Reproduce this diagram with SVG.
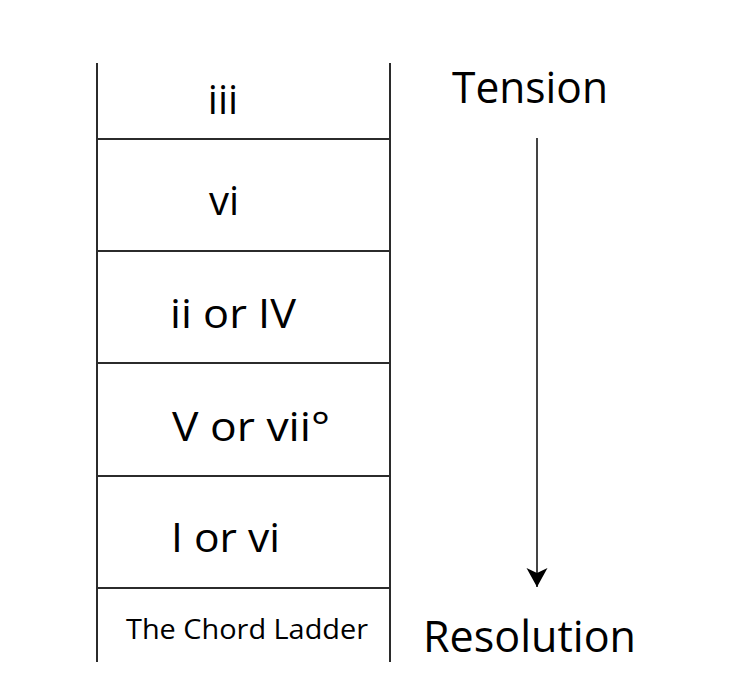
<svg xmlns="http://www.w3.org/2000/svg" width="734" height="688" viewBox="0 0 734 688">
<defs>
<style>
.ln{stroke:#2b2b2b;stroke-width:2;fill:none}
.t{font-family:"Open Sans","Noto Sans","Liberation Sans",sans-serif;fill:#000;font-weight:500}
.big{font-size:40px}
.lbl{font-size:44px}
.cap{font-size:27px}
</style>
<marker id="ah" markerWidth="22" markerHeight="22" refX="19" refY="11" orient="auto" markerUnits="userSpaceOnUse">
<path d="M0,0.5 L19,11 L0,21.5 L5,11 Z" fill="#000"/>
</marker>
</defs>
<rect width="734" height="688" fill="#fff"/>
<g id="ladder">
<line class="ln" x1="97" y1="63" x2="97" y2="662" stroke="#777"/>
<line class="ln" x1="390" y1="63" x2="390" y2="662"/>
</g>
<g id="rung-iii">
<line class="ln" x1="97" y1="139" x2="390" y2="139"/>
<text class="t big" x="223" y="114" text-anchor="middle">iii</text>
</g>
<g id="rung-vi">
<line class="ln" x1="97" y1="251" x2="390" y2="251"/>
<text class="t big" x="224" y="215" text-anchor="middle">vi</text>
</g>
<g id="rung-ii-IV">
<line class="ln" x1="97" y1="363" x2="390" y2="363"/>
<text class="t big" x="170" y="328" textLength="126" lengthAdjust="spacingAndGlyphs">ii or IV</text>
</g>
<g id="rung-V-vii">
<line class="ln" x1="97" y1="476" x2="390" y2="476"/>
<text class="t big" x="172" y="441" textLength="158" lengthAdjust="spacingAndGlyphs">V or vii°</text>
</g>
<g id="rung-I-vi">
<line class="ln" x1="97" y1="588" x2="390" y2="588"/>
<text class="t big" x="171" y="552" textLength="109" lengthAdjust="spacingAndGlyphs">I or vi</text>
</g>
<g id="title">
<text class="t cap" x="126" y="639" textLength="242" lengthAdjust="spacingAndGlyphs">The Chord Ladder</text>
</g>
<g id="tension">
<text class="t lbl" x="452" y="103" textLength="156" lengthAdjust="spacingAndGlyphs">Tension</text>
</g>
<g id="resolution">
<text class="t lbl" x="423" y="652" textLength="213" lengthAdjust="spacingAndGlyphs">Resolution</text>
</g>
<g id="connectors">
<line x1="537" y1="138" x2="537" y2="587" stroke="#444" stroke-width="2" marker-end="url(#ah)"/>
</g>
</svg>
